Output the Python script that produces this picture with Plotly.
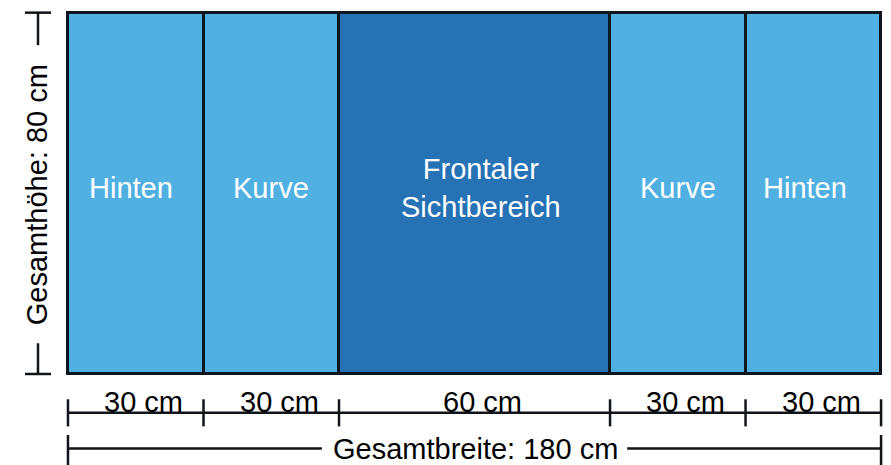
import plotly.graph_objects as go

# ---- data ----
segment_labels = ["Hinten", "Kurve", "Frontaler<br>Sichtbereich", "Kurve", "Hinten"]
segment_widths_cm = [30, 30, 60, 30, 30]
total_height_cm = 80
segment_colors = ["#50B0E2", "#50B0E2", "#2672B5", "#50B0E2", "#50B0E2"]
width_labels = ["30 cm", "30 cm", "60 cm", "30 cm", "30 cm"]
total_width_label = "Gesamtbreite: 180 cm"
total_height_label = "Gesamthöhe: 80 cm"

# ---- derived geometry ----
edges = [0]
for w in segment_widths_cm:
    edges.append(edges[-1] + w)
total_width = edges[-1]
centers = [(edges[i] + edges[i + 1]) / 2 for i in range(len(segment_widths_cm))]

FONT = "Arial, Liberation Sans, sans-serif"
LINE = "#111418"
FS = 29

fig = go.Figure()
fig.add_trace(go.Bar(
    x=centers, y=[total_height_cm] * len(centers), width=segment_widths_cm,
    marker=dict(color=segment_colors, line=dict(color="#0E1620", width=3)),
    hoverinfo="skip", showlegend=False,
))

# dimension line offsets (in cm, layout only)
seg_y = -8.6
seg_tick = 3.0
tot_y = -16.5
tot_tick = 3.0
ver_x = -6.64
ver_tick = 2.9
tot_gap = 33.8      # half gap around the total-width text
ver_gap = 33.0      # half gap around the total-height text
ver_mid = 39.8

# segment dimension line
xs, ys = [0, total_width], [seg_y, seg_y]
for e in edges:
    xs += [None, e, e]
    ys += [None, seg_y + seg_tick, seg_y - seg_tick]
fig.add_trace(go.Scatter(x=xs, y=ys, mode="lines", line=dict(color=LINE, width=2.5),
                         hoverinfo="skip", showlegend=False, cliponaxis=False))
# total width line (with gap for the text)
mid = total_width / 2
xs = [0, mid - tot_gap, None, mid + tot_gap, total_width,
      None, 0, 0, None, total_width, total_width]
ys = [tot_y, tot_y, None, tot_y, tot_y,
      None, tot_y + tot_tick, tot_y - tot_tick * 2, None, tot_y + tot_tick, tot_y - tot_tick * 2]
fig.add_trace(go.Scatter(x=xs, y=ys, mode="lines", line=dict(color=LINE, width=2.5),
                         hoverinfo="skip", showlegend=False, cliponaxis=False))
# height line (with gap for the text)
xs = [ver_x, ver_x, None, ver_x, ver_x,
      None, ver_x - ver_tick, ver_x + ver_tick, None, ver_x - ver_tick, ver_x + ver_tick]
ys = [0, ver_mid - ver_gap, None, ver_mid + ver_gap, total_height_cm,
      None, 0, 0, None, total_height_cm, total_height_cm]
fig.add_trace(go.Scatter(x=xs, y=ys, mode="lines", line=dict(color=LINE, width=2.5),
                         hoverinfo="skip", showlegend=False, cliponaxis=False))

label_xshift = [-5, 0, 6, 0, -8]
ann = []
for c, lab, dx in zip(centers, segment_labels, label_xshift):
    ann.append(dict(x=c, y=total_height_cm / 2, text=lab, showarrow=False, xshift=dx,
                    font=dict(family=FONT, size=FS, color="white"), yshift=5))
for c, lab in zip(centers, width_labels):
    ann.append(dict(x=c, y=seg_y, text=lab, showarrow=False, yanchor="bottom",
                    xshift=8, yshift=-7,
                    font=dict(family=FONT, size=FS, color="black")))
ann.append(dict(x=mid, y=tot_y, text=total_width_label, showarrow=False, xshift=1,
                font=dict(family=FONT, size=FS, color="black")))
ann.append(dict(x=ver_x, y=ver_mid, text=total_height_label, showarrow=False,
                textangle=-90, xshift=-1,
                font=dict(family=FONT, size=FS, color="black")))

fig.update_layout(
    width=891, height=465, margin=dict(l=0, r=0, t=0, b=0),
    paper_bgcolor="white", plot_bgcolor="white",
    xaxis=dict(range=[-15.05, 182.2], visible=False, fixedrange=True),
    yaxis=dict(range=[-20.15, 82.8], visible=False, fixedrange=True),
    annotations=ann, bargap=0,
)
fig.write_html("out.html", config={"displayModeBar": False},
               post_script="document.body.style.margin='0px';")
